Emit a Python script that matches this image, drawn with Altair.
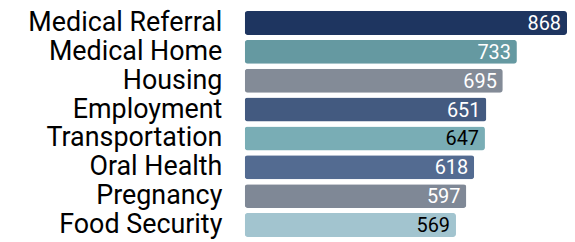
import altair as alt
import pandas as pd

categories = ["Medical Referral", "Medical Home", "Housing", "Employment",
              "Transportation", "Oral Health", "Pregnancy", "Food Security"]
values = [868, 733, 695, 651, 647, 618, 597, 569]
bar_colors = ["#1e3560", "#6599a1", "#838b97", "#435a80",
              "#79adb5", "#536b91", "#7f8896", "#a2c4cf"]
text_colors = ["#ffffff", "#ffffff", "#ffffff", "#ffffff",
               "#000000", "#ffffff", "#ffffff", "#000000"]

df = pd.DataFrame({"cat": categories, "val": values,
                   "bc": bar_colors, "tc": text_colors})

y = alt.Y("cat:N", sort=categories, title=None,
          scale=alt.Scale(paddingInner=0.17, paddingOuter=0.085),
          axis=alt.Axis(domain=False, ticks=False, labelPadding=23,
                        labelFont="Roboto", labelFontSize=27,
                        labelColor="#000000", labelLimit=300))
x = alt.X("val:Q", title=None, scale=alt.Scale(domain=[0, 868], nice=False),
          axis=None)

bars = alt.Chart(df).mark_bar(cornerRadius=3).encode(
    y=y, x=x, color=alt.Color("bc:N", scale=None))

labels = alt.Chart(df).mark_text(align="right", baseline="middle", dx=-6, dy=1,
                                 font="Roboto", fontSize=20).encode(
    y=alt.Y("cat:N", sort=categories), x=alt.X("val:Q"),
    color=alt.Color("tc:N", scale=None), text="val:Q")

chart = (bars + labels).properties(
    width=324, height=232,
    autosize=alt.AutoSizeParams(type="none"),
    padding={"left": 238, "top": 0, "right": 0, "bottom": 0},
    background="#ffffff",
).configure_view(stroke=None)

chart.save("out.html", embed_options={"renderer": "svg", "actions": False})
